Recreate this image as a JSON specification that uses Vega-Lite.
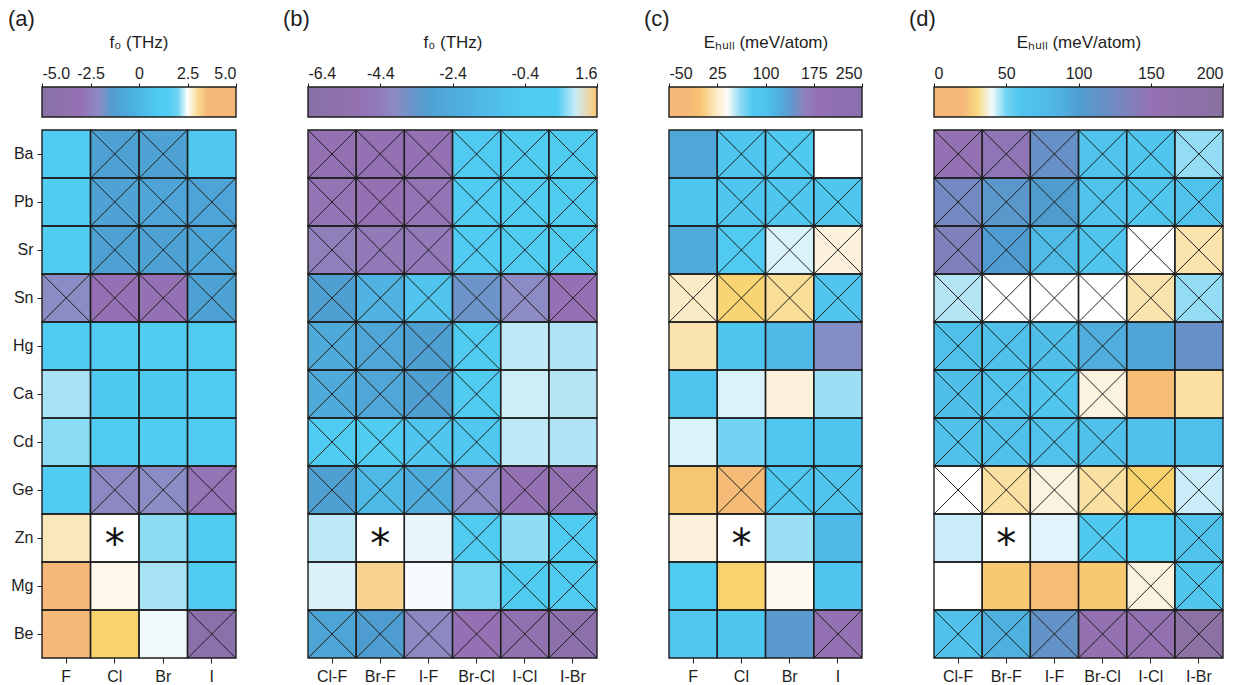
{
  "$schema": "https://vega.github.io/schema/vega-lite/v6.json",
  "background": "white",
  "padding": {"left": 8, "top": 8, "right": 10, "bottom": 5},
  "config": {
    "font": "Liberation Sans",
    "view": {"stroke": null},
    "axis": {"title": null, "domain": false, "grid": false, "labelFontSize": 16, "labelColor": "#1e1e1e", "tickColor": "#1e1e1e", "tickSize": 5, "tickWidth": 1, "labelPadding": 4},
    "axisX": {"labelAngle": 0, "labelPadding": 5},
    "legend": {
      "orient": "none", "legendX": 0, "legendY": -95, "direction": "horizontal",
      "gradientThickness": 30, "gradientStrokeColor": "#1e1e1e", "gradientStrokeWidth": 1.4,
      "labelOpacity": 0, "labelOverlap": false, "labelFontSize": 10,
      "titleFontSize": 17, "titleFontWeight": "normal", "titleColor": "#1e1e1e", "titleAnchor": "middle",
      "titlePadding": 35, "padding": 0, "titleLimit": 400
    },
    "title": {"fontSize": 22, "fontWeight": "normal", "anchor": "start", "frame": "group", "color": "#1e1e1e"}
  },
  "datasets": {
    "cells": [
      {"p":"a","r":"Ba","c":"F","v":1.2,"x":0},{"p":"a","r":"Ba","c":"Cl","v":-1.2,"x":1},{"p":"a","r":"Ba","c":"Br","v":-1.1,"x":1},{"p":"a","r":"Ba","c":"I","v":0.8,"x":0},
      {"p":"a","r":"Pb","c":"F","v":1.3,"x":0},{"p":"a","r":"Pb","c":"Cl","v":-1.1,"x":1},{"p":"a","r":"Pb","c":"Br","v":-1.0,"x":1},{"p":"a","r":"Pb","c":"I","v":-1.0,"x":1},
      {"p":"a","r":"Sr","c":"F","v":1.3,"x":0},{"p":"a","r":"Sr","c":"Cl","v":-1.2,"x":1},{"p":"a","r":"Sr","c":"Br","v":-1.1,"x":1},{"p":"a","r":"Sr","c":"I","v":-0.9,"x":1},
      {"p":"a","r":"Sn","c":"F","v":-2.0,"x":1},{"p":"a","r":"Sn","c":"Cl","v":-3.0,"x":1},{"p":"a","r":"Sn","c":"Br","v":-3.2,"x":1},{"p":"a","r":"Sn","c":"I","v":-1.2,"x":1},
      {"p":"a","r":"Hg","c":"F","v":1.2,"x":0},{"p":"a","r":"Hg","c":"Cl","v":1.2,"x":0},{"p":"a","r":"Hg","c":"Br","v":1.3,"x":0},{"p":"a","r":"Hg","c":"I","v":1.3,"x":0},
      {"p":"a","r":"Ca","c":"F","v":2.2,"x":0},{"p":"a","r":"Ca","c":"Cl","v":0.9,"x":0},{"p":"a","r":"Ca","c":"Br","v":0.9,"x":0},{"p":"a","r":"Ca","c":"I","v":1.0,"x":0},
      {"p":"a","r":"Cd","c":"F","v":2.1,"x":0},{"p":"a","r":"Cd","c":"Cl","v":1.2,"x":0},{"p":"a","r":"Cd","c":"Br","v":1.2,"x":0},{"p":"a","r":"Cd","c":"I","v":1.2,"x":0},
      {"p":"a","r":"Ge","c":"F","v":1.2,"x":0},{"p":"a","r":"Ge","c":"Cl","v":-2.1,"x":1},{"p":"a","r":"Ge","c":"Br","v":-2.0,"x":1},{"p":"a","r":"Ge","c":"I","v":-2.9,"x":1},
      {"p":"a","r":"Zn","c":"F","v":2.85,"x":0},{"p":"a","r":"Zn","c":"Cl","v":null,"x":0},{"p":"a","r":"Zn","c":"Br","v":2.1,"x":0},{"p":"a","r":"Zn","c":"I","v":1.3,"x":0},
      {"p":"a","r":"Mg","c":"F","v":4.2,"x":0},{"p":"a","r":"Mg","c":"Cl","v":2.62,"x":0},{"p":"a","r":"Mg","c":"Br","v":2.2,"x":0},{"p":"a","r":"Mg","c":"I","v":1.3,"x":0},
      {"p":"a","r":"Be","c":"F","v":3.6,"x":0},{"p":"a","r":"Be","c":"Cl","v":3.15,"x":0},{"p":"a","r":"Be","c":"Br","v":2.45,"x":0},{"p":"a","r":"Be","c":"I","v":-4.6,"x":1},

      {"p":"b","r":"Ba","c":"Cl-F","v":-4.9,"x":1},{"p":"b","r":"Ba","c":"Br-F","v":-4.9,"x":1},{"p":"b","r":"Ba","c":"I-F","v":-4.9,"x":1},{"p":"b","r":"Ba","c":"Br-Cl","v":-0.5,"x":1},{"p":"b","r":"Ba","c":"I-Cl","v":0.0,"x":1},{"p":"b","r":"Ba","c":"I-Br","v":0.0,"x":1},
      {"p":"b","r":"Pb","c":"Cl-F","v":-4.7,"x":1},{"p":"b","r":"Pb","c":"Br-F","v":-4.8,"x":1},{"p":"b","r":"Pb","c":"I-F","v":-4.7,"x":1},{"p":"b","r":"Pb","c":"Br-Cl","v":-0.3,"x":1},{"p":"b","r":"Pb","c":"I-Cl","v":0.0,"x":1},{"p":"b","r":"Pb","c":"I-Br","v":0.0,"x":1},
      {"p":"b","r":"Sr","c":"Cl-F","v":-4.3,"x":1},{"p":"b","r":"Sr","c":"Br-F","v":-4.5,"x":1},{"p":"b","r":"Sr","c":"I-F","v":-4.5,"x":1},{"p":"b","r":"Sr","c":"Br-Cl","v":-0.4,"x":1},{"p":"b","r":"Sr","c":"I-Cl","v":0.0,"x":1},{"p":"b","r":"Sr","c":"I-Br","v":0.0,"x":1},
      {"p":"b","r":"Sn","c":"Cl-F","v":-3.1,"x":1},{"p":"b","r":"Sn","c":"Br-F","v":-2.0,"x":1},{"p":"b","r":"Sn","c":"I-F","v":-0.9,"x":1},{"p":"b","r":"Sn","c":"Br-Cl","v":-3.55,"x":1},{"p":"b","r":"Sn","c":"I-Cl","v":-3.95,"x":1},{"p":"b","r":"Sn","c":"I-Br","v":-4.8,"x":1},
      {"p":"b","r":"Hg","c":"Cl-F","v":-2.5,"x":1},{"p":"b","r":"Hg","c":"Br-F","v":-2.7,"x":1},{"p":"b","r":"Hg","c":"I-F","v":-3.1,"x":1},{"p":"b","r":"Hg","c":"Br-Cl","v":0.0,"x":1},{"p":"b","r":"Hg","c":"I-Cl","v":0.95,"x":0},{"p":"b","r":"Hg","c":"I-Br","v":0.88,"x":0},
      {"p":"b","r":"Ca","c":"Cl-F","v":-2.5,"x":1},{"p":"b","r":"Ca","c":"Br-F","v":-2.7,"x":1},{"p":"b","r":"Ca","c":"I-F","v":-3.1,"x":1},{"p":"b","r":"Ca","c":"Br-Cl","v":0.0,"x":1},{"p":"b","r":"Ca","c":"I-Cl","v":1.02,"x":0},{"p":"b","r":"Ca","c":"I-Br","v":0.9,"x":0},
      {"p":"b","r":"Cd","c":"Cl-F","v":-0.3,"x":1},{"p":"b","r":"Cd","c":"Br-F","v":0.0,"x":1},{"p":"b","r":"Cd","c":"I-F","v":-0.8,"x":1},{"p":"b","r":"Cd","c":"Br-Cl","v":-0.7,"x":1},{"p":"b","r":"Cd","c":"I-Cl","v":0.95,"x":0},{"p":"b","r":"Cd","c":"I-Br","v":0.88,"x":0},
      {"p":"b","r":"Ge","c":"Cl-F","v":-3.1,"x":1},{"p":"b","r":"Ge","c":"Br-F","v":-1.6,"x":1},{"p":"b","r":"Ge","c":"I-F","v":-2.3,"x":1},{"p":"b","r":"Ge","c":"Br-Cl","v":-4.0,"x":1},{"p":"b","r":"Ge","c":"I-Cl","v":-4.9,"x":1},{"p":"b","r":"Ge","c":"I-Br","v":-5.0,"x":1},
      {"p":"b","r":"Zn","c":"Cl-F","v":0.95,"x":0},{"p":"b","r":"Zn","c":"Br-F","v":null,"x":0},{"p":"b","r":"Zn","c":"I-F","v":1.15,"x":0},{"p":"b","r":"Zn","c":"Br-Cl","v":0.0,"x":1},{"p":"b","r":"Zn","c":"I-Cl","v":0.75,"x":0},{"p":"b","r":"Zn","c":"I-Br","v":0.1,"x":1},
      {"p":"b","r":"Mg","c":"Cl-F","v":1.08,"x":0},{"p":"b","r":"Mg","c":"Br-F","v":1.45,"x":0},{"p":"b","r":"Mg","c":"I-F","v":1.25,"x":0},{"p":"b","r":"Mg","c":"Br-Cl","v":0.65,"x":0},{"p":"b","r":"Mg","c":"I-Cl","v":0.0,"x":1},{"p":"b","r":"Mg","c":"I-Br","v":0.1,"x":1},
      {"p":"b","r":"Be","c":"Cl-F","v":-2.8,"x":1},{"p":"b","r":"Be","c":"Br-F","v":-3.2,"x":1},{"p":"b","r":"Be","c":"I-F","v":-4.0,"x":1},{"p":"b","r":"Be","c":"Br-Cl","v":-4.8,"x":1},{"p":"b","r":"Be","c":"I-Cl","v":-5.3,"x":1},{"p":"b","r":"Be","c":"I-Br","v":-5.9,"x":1},

      {"p":"c","r":"Ba","c":"F","v":127,"x":0},{"p":"c","r":"Ba","c":"Cl","v":90,"x":1},{"p":"c","r":"Ba","c":"Br","v":75,"x":1},{"p":"c","r":"Ba","c":"I","v":42,"x":0},
      {"p":"c","r":"Pb","c":"F","v":90,"x":0},{"p":"c","r":"Pb","c":"Cl","v":90,"x":1},{"p":"c","r":"Pb","c":"Br","v":92,"x":1},{"p":"c","r":"Pb","c":"I","v":92,"x":1},
      {"p":"c","r":"Sr","c":"F","v":124,"x":0},{"p":"c","r":"Sr","c":"Cl","v":72,"x":1},{"p":"c","r":"Sr","c":"Br","v":49,"x":1},{"p":"c","r":"Sr","c":"I","v":27,"x":1},
      {"p":"c","r":"Sn","c":"F","v":22,"x":1},{"p":"c","r":"Sn","c":"Cl","v":9,"x":1},{"p":"c","r":"Sn","c":"Br","v":15,"x":1},{"p":"c","r":"Sn","c":"I","v":95,"x":1},
      {"p":"c","r":"Hg","c":"F","v":18,"x":0},{"p":"c","r":"Hg","c":"Cl","v":90,"x":0},{"p":"c","r":"Hg","c":"Br","v":112,"x":0},{"p":"c","r":"Hg","c":"I","v":150,"x":0},
      {"p":"c","r":"Ca","c":"F","v":100,"x":0},{"p":"c","r":"Ca","c":"Cl","v":49,"x":0},{"p":"c","r":"Ca","c":"Br","v":27,"x":0},{"p":"c","r":"Ca","c":"I","v":59,"x":0},
      {"p":"c","r":"Cd","c":"F","v":49,"x":0},{"p":"c","r":"Cd","c":"Cl","v":64,"x":0},{"p":"c","r":"Cd","c":"Br","v":88,"x":0},{"p":"c","r":"Cd","c":"I","v":100,"x":0},
      {"p":"c","r":"Ge","c":"F","v":0,"x":0},{"p":"c","r":"Ge","c":"Cl","v":-8,"x":1},{"p":"c","r":"Ge","c":"Br","v":85,"x":1},{"p":"c","r":"Ge","c":"I","v":102,"x":1},
      {"p":"c","r":"Zn","c":"F","v":27,"x":0},{"p":"c","r":"Zn","c":"Cl","v":null,"x":0},{"p":"c","r":"Zn","c":"Br","v":59,"x":0},{"p":"c","r":"Zn","c":"I","v":112,"x":0},
      {"p":"c","r":"Mg","c":"F","v":72,"x":0},{"p":"c","r":"Mg","c":"Cl","v":8,"x":0},{"p":"c","r":"Mg","c":"Br","v":36,"x":0},{"p":"c","r":"Mg","c":"I","v":98,"x":0},
      {"p":"c","r":"Be","c":"F","v":88,"x":0},{"p":"c","r":"Be","c":"Cl","v":90,"x":0},{"p":"c","r":"Be","c":"Br","v":138,"x":0},{"p":"c","r":"Be","c":"I","v":185,"x":1},

      {"p":"d","r":"Ba","c":"Cl-F","v":152,"x":1},{"p":"d","r":"Ba","c":"Br-F","v":145,"x":1},{"p":"d","r":"Ba","c":"I-F","v":118,"x":1},{"p":"d","r":"Ba","c":"Br-Cl","v":65,"x":1},{"p":"d","r":"Ba","c":"I-Cl","v":60,"x":1},{"p":"d","r":"Ba","c":"I-Br","v":48,"x":1},
      {"p":"d","r":"Pb","c":"Cl-F","v":127,"x":1},{"p":"d","r":"Pb","c":"Br-F","v":108,"x":1},{"p":"d","r":"Pb","c":"I-F","v":101,"x":1},{"p":"d","r":"Pb","c":"Br-Cl","v":65,"x":1},{"p":"d","r":"Pb","c":"I-Cl","v":62,"x":1},{"p":"d","r":"Pb","c":"I-Br","v":65,"x":1},
      {"p":"d","r":"Sr","c":"Cl-F","v":135,"x":1},{"p":"d","r":"Sr","c":"Br-F","v":100,"x":1},{"p":"d","r":"Sr","c":"I-F","v":75,"x":1},{"p":"d","r":"Sr","c":"Br-Cl","v":62,"x":1},{"p":"d","r":"Sr","c":"I-Cl","v":39,"x":1},{"p":"d","r":"Sr","c":"I-Br","v":32,"x":1},
      {"p":"d","r":"Sn","c":"Cl-F","v":46,"x":1},{"p":"d","r":"Sn","c":"Br-F","v":39,"x":1},{"p":"d","r":"Sn","c":"I-F","v":39,"x":1},{"p":"d","r":"Sn","c":"Br-Cl","v":39,"x":1},{"p":"d","r":"Sn","c":"I-Cl","v":32,"x":1},{"p":"d","r":"Sn","c":"I-Br","v":48,"x":1},
      {"p":"d","r":"Hg","c":"Cl-F","v":70,"x":1},{"p":"d","r":"Hg","c":"Br-F","v":68,"x":1},{"p":"d","r":"Hg","c":"I-F","v":72,"x":1},{"p":"d","r":"Hg","c":"Br-Cl","v":90,"x":1},{"p":"d","r":"Hg","c":"I-Cl","v":95,"x":0},{"p":"d","r":"Hg","c":"I-Br","v":118,"x":0},
      {"p":"d","r":"Ca","c":"Cl-F","v":72,"x":1},{"p":"d","r":"Ca","c":"Br-F","v":65,"x":1},{"p":"d","r":"Ca","c":"I-F","v":62,"x":1},{"p":"d","r":"Ca","c":"Br-Cl","v":35,"x":1},{"p":"d","r":"Ca","c":"I-Cl","v":22,"x":0},{"p":"d","r":"Ca","c":"I-Br","v":31.5,"x":0},
      {"p":"d","r":"Cd","c":"Cl-F","v":68,"x":1},{"p":"d","r":"Cd","c":"Br-F","v":68,"x":1},{"p":"d","r":"Cd","c":"I-F","v":66,"x":1},{"p":"d","r":"Cd","c":"Br-Cl","v":68,"x":1},{"p":"d","r":"Cd","c":"I-Cl","v":68,"x":0},{"p":"d","r":"Cd","c":"I-Br","v":70,"x":0},
      {"p":"d","r":"Ge","c":"Cl-F","v":39,"x":1},{"p":"d","r":"Ge","c":"Br-F","v":31.5,"x":1},{"p":"d","r":"Ge","c":"I-F","v":35,"x":1},{"p":"d","r":"Ge","c":"Br-Cl","v":31.5,"x":1},{"p":"d","r":"Ge","c":"I-Cl","v":29,"x":1},{"p":"d","r":"Ge","c":"I-Br","v":44,"x":1},
      {"p":"d","r":"Zn","c":"Cl-F","v":44,"x":0},{"p":"d","r":"Zn","c":"Br-F","v":null,"x":0},{"p":"d","r":"Zn","c":"I-F","v":42,"x":0},{"p":"d","r":"Zn","c":"Br-Cl","v":55,"x":1},{"p":"d","r":"Zn","c":"I-Cl","v":54,"x":0},{"p":"d","r":"Zn","c":"I-Br","v":65,"x":1},
      {"p":"d","r":"Mg","c":"Cl-F","v":39,"x":0},{"p":"d","r":"Mg","c":"Br-F","v":26,"x":0},{"p":"d","r":"Mg","c":"I-F","v":22,"x":0},{"p":"d","r":"Mg","c":"Br-Cl","v":26,"x":0},{"p":"d","r":"Mg","c":"I-Cl","v":35,"x":1},{"p":"d","r":"Mg","c":"I-Br","v":62,"x":1},
      {"p":"d","r":"Be","c":"Cl-F","v":68,"x":1},{"p":"d","r":"Be","c":"Br-F","v":88,"x":1},{"p":"d","r":"Be","c":"I-F","v":115,"x":1},{"p":"d","r":"Be","c":"Br-Cl","v":155,"x":1},{"p":"d","r":"Be","c":"I-Cl","v":158,"x":1},{"p":"d","r":"Be","c":"I-Br","v":190,"x":1}
    ]
  },
  "data": {"name": "cells"},
  "spacing": 72,
  "bounds": "flush",
  "resolve": {"scale": {"color": "independent", "x": "independent", "y": "independent"}, "legend": {"color": "independent"}},
  "hconcat": [
    {
      "title": {"text": "(a)", "dx": -34},
      "width": 194, "height": 528,
      "transform": [{"filter": "datum.p == 'a'"}],
      "encoding": {
        "y": {"field": "r", "type": "nominal", "sort": ["Ba", "Pb", "Sr", "Sn", "Hg", "Ca", "Cd", "Ge", "Zn", "Mg", "Be"], "scale": {"paddingInner": 0, "paddingOuter": 0}}
      },
      "layer": [
        {
          "layer": [
            {
              "transform": [{"filter": "datum.v != null"}],
              "mark": {"type": "rect"},
              "encoding": {
                "color": {
                  "field": "v", "type": "quantitative",
                  "scale": {
                    "type": "linear", "interpolate": "rgb", "clamp": true, "zero": false, "nice": false,
                    "domain": [-5, -3.0, -2.0, -1.4, 0, 1.0, 1.9, 2.25, 2.5, 2.75, 3.15, 3.45, 5],
                    "range": ["#8871a6", "#9571b3", "#8b8cc4", "#4f9dd0", "#4ab6e4", "#50cbf1", "#50cdf2", "#b5e5f5", "#ffffff", "#fbefd8", "#f8d26c", "#f5b878", "#f5b878"]
                  },
                  "legend": {"title": "f₀ (THz)", "gradientLength": 194}
                }
              }
            },
            {"transform": [{"filter": "datum.x == 1"}], "mark": {"type": "point", "shape": "M-1,-1L1,1M-1,1L1,-1", "filled": false, "color": "#1e1e1e", "strokeWidth": 1, "size": 2304, "opacity": 1}},
            {"mark": {"type": "rect", "fillOpacity": 0, "stroke": "#1e1e1e", "strokeWidth": 1.4}},
            {"transform": [{"filter": "datum.v == null"}], "mark": {"type": "text", "text": "*", "font": "DejaVu Sans", "fontSize": 40, "baseline": "middle", "dy": 8, "color": "#111111"}}
          ],
          "encoding": {
            "x": {"field": "c", "type": "nominal", "sort": ["F", "Cl", "Br", "I"], "scale": {"paddingInner": 0, "paddingOuter": 0}}
          }
        },
        {
          "transform": [{"filter": "datum.v != null"}],
          "mark": {"type": "point", "opacity": 0},
          "encoding": {
            "x": {"field": "v", "type": "quantitative", "scale": {"domain": [-5, 5], "nice": false, "zero": false},
                  "axis": {"orient": "top", "offset": 43, "values": [-5, -2.5, 0, 2.5, 5], "tickSize": 4, "labelPadding": 2,
                           "labelExpr": "datum.value == 0 ? '0' : (datum.value < 0 ? '-' : '') + format(abs(datum.value), '.1f')"}}
          }
        }
      ],
      "resolve": {"scale": {"x": "independent"}, "axis": {"x": "independent"}}
    },
    {
      "title": {"text": "(b)", "dx": -25},
      "width": 289, "height": 528,
      "transform": [{"filter": "datum.p == 'b'"}],
      "encoding": {
        "y": {"field": "r", "type": "nominal", "sort": ["Ba", "Pb", "Sr", "Sn", "Hg", "Ca", "Cd", "Ge", "Zn", "Mg", "Be"], "scale": {"paddingInner": 0, "paddingOuter": 0}, "axis": null}
      },
      "layer": [
        {
          "layer": [
            {
              "transform": [{"filter": "datum.v != null"}],
              "mark": {"type": "rect"},
              "encoding": {
                "color": {
                  "field": "v", "type": "quantitative",
                  "scale": {
                    "type": "linear", "interpolate": "rgb", "clamp": true, "zero": false, "nice": false,
                    "domain": [-6.4, -4.8, -3.9, -3.2, -1.8, -0.4, 0.5, 0.9, 1.15, 1.35, 1.45, 1.6],
                    "range": ["#8871a6", "#9571b3", "#8b8cc4", "#4f9dd0", "#4fb6e4", "#50cbf1", "#50cdf2", "#b5e5f5", "#e8f5fa", "#ffffff", "#f8d390", "#f5c27a"]
                  },
                  "legend": {"title": "f₀ (THz)", "gradientLength": 289}
                }
              }
            },
            {"transform": [{"filter": "datum.x == 1"}], "mark": {"type": "point", "shape": "M-1,-1L1,1M-1,1L1,-1", "filled": false, "color": "#1e1e1e", "strokeWidth": 1, "size": 2304, "opacity": 1}},
            {"mark": {"type": "rect", "fillOpacity": 0, "stroke": "#1e1e1e", "strokeWidth": 1.4}},
            {"transform": [{"filter": "datum.v == null"}], "mark": {"type": "text", "text": "*", "font": "DejaVu Sans", "fontSize": 40, "baseline": "middle", "dy": 8, "color": "#111111"}}
          ],
          "encoding": {
            "x": {"field": "c", "type": "nominal", "sort": ["Cl-F", "Br-F", "I-F", "Br-Cl", "I-Cl", "I-Br"], "scale": {"paddingInner": 0, "paddingOuter": 0}}
          }
        },
        {
          "transform": [{"filter": "datum.v != null"}],
          "mark": {"type": "point", "opacity": 0},
          "encoding": {
            "x": {"field": "v", "type": "quantitative", "scale": {"domain": [-6.4, 1.6], "nice": false, "zero": false},
                  "axis": {"orient": "top", "offset": 43, "values": [-6.4, -4.4, -2.4, -0.4, 1.6], "tickSize": 4, "labelPadding": 2,
                           "labelExpr": "(datum.value < 0 ? '-' : '') + format(abs(datum.value), '.1f')"}}
          }
        }
      ],
      "resolve": {"scale": {"x": "independent"}, "axis": {"x": "independent"}}
    },
    {
      "title": {"text": "(c)", "dx": -25},
      "width": 193, "height": 528,
      "transform": [{"filter": "datum.p == 'c'"}],
      "encoding": {
        "y": {"field": "r", "type": "nominal", "sort": ["Ba", "Pb", "Sr", "Sn", "Hg", "Ca", "Cd", "Ge", "Zn", "Mg", "Be"], "scale": {"paddingInner": 0, "paddingOuter": 0}, "axis": null}
      },
      "layer": [
        {
          "layer": [
            {
              "transform": [{"filter": "datum.v != null"}],
              "mark": {"type": "rect"},
              "encoding": {
                "color": {
                  "field": "v", "type": "quantitative",
                  "scale": {
                    "type": "linear", "interpolate": "rgb", "clamp": true, "zero": false, "nice": false,
                    "domain": [-50, -10, 8, 25, 42, 56, 68, 105, 135, 152, 170, 250],
                    "range": ["#f5b878", "#f5b878", "#f8d26c", "#fbefd8", "#ffffff", "#b5e5f5", "#50cbf1", "#4fc3ee", "#4f9dd0", "#8b8cc4", "#9571b3", "#8a6fae"]
                  },
                  "legend": {"title": "Eₕᵤₗₗ (meV/atom)", "gradientLength": 193}
                }
              }
            },
            {"transform": [{"filter": "datum.x == 1"}], "mark": {"type": "point", "shape": "M-1,-1L1,1M-1,1L1,-1", "filled": false, "color": "#1e1e1e", "strokeWidth": 1, "size": 2304, "opacity": 1}},
            {"mark": {"type": "rect", "fillOpacity": 0, "stroke": "#1e1e1e", "strokeWidth": 1.4}},
            {"transform": [{"filter": "datum.v == null"}], "mark": {"type": "text", "text": "*", "font": "DejaVu Sans", "fontSize": 40, "baseline": "middle", "dy": 8, "color": "#111111"}}
          ],
          "encoding": {
            "x": {"field": "c", "type": "nominal", "sort": ["F", "Cl", "Br", "I"], "scale": {"paddingInner": 0, "paddingOuter": 0}}
          }
        },
        {
          "transform": [{"filter": "datum.v != null"}],
          "mark": {"type": "point", "opacity": 0},
          "encoding": {
            "x": {"field": "v", "type": "quantitative", "scale": {"domain": [-50, 250], "nice": false, "zero": false},
                  "axis": {"orient": "top", "offset": 43, "values": [-50, 25, 100, 175, 250], "tickSize": 4, "labelPadding": 2,
                           "labelExpr": "(datum.value < 0 ? '-' : '') + format(abs(datum.value), 'd')"}}
          }
        }
      ],
      "resolve": {"scale": {"x": "independent"}, "axis": {"x": "independent"}}
    },
    {
      "title": {"text": "(d)", "dx": -25},
      "width": 289, "height": 528,
      "transform": [{"filter": "datum.p == 'd'"}],
      "encoding": {
        "y": {"field": "r", "type": "nominal", "sort": ["Ba", "Pb", "Sr", "Sn", "Hg", "Ca", "Cd", "Ge", "Zn", "Mg", "Be"], "scale": {"paddingInner": 0, "paddingOuter": 0}, "axis": null}
      },
      "layer": [
        {
          "layer": [
            {
              "transform": [{"filter": "datum.v != null"}],
              "mark": {"type": "rect"},
              "encoding": {
                "color": {
                  "field": "v", "type": "quantitative",
                  "scale": {
                    "type": "linear", "interpolate": "rgb", "clamp": true, "zero": false, "nice": false,
                    "domain": [0, 20, 29, 34, 39, 46, 52, 85, 100, 128, 150, 200],
                    "range": ["#f5b878", "#f5b878", "#f8d26c", "#fbefd8", "#ffffff", "#b5e5f5", "#50cbf1", "#4fb6e4", "#4f9dd0", "#7588c0", "#9571b3", "#8871a0"]
                  },
                  "legend": {"title": "Eₕᵤₗₗ (meV/atom)", "gradientLength": 289}
                }
              }
            },
            {"transform": [{"filter": "datum.x == 1"}], "mark": {"type": "point", "shape": "M-1,-1L1,1M-1,1L1,-1", "filled": false, "color": "#1e1e1e", "strokeWidth": 1, "size": 2304, "opacity": 1}},
            {"mark": {"type": "rect", "fillOpacity": 0, "stroke": "#1e1e1e", "strokeWidth": 1.4}},
            {"transform": [{"filter": "datum.v == null"}], "mark": {"type": "text", "text": "*", "font": "DejaVu Sans", "fontSize": 40, "baseline": "middle", "dy": 8, "color": "#111111"}}
          ],
          "encoding": {
            "x": {"field": "c", "type": "nominal", "sort": ["Cl-F", "Br-F", "I-F", "Br-Cl", "I-Cl", "I-Br"], "scale": {"paddingInner": 0, "paddingOuter": 0}}
          }
        },
        {
          "transform": [{"filter": "datum.v != null"}],
          "mark": {"type": "point", "opacity": 0},
          "encoding": {
            "x": {"field": "v", "type": "quantitative", "scale": {"domain": [0, 200], "nice": false, "zero": false},
                  "axis": {"orient": "top", "offset": 43, "values": [0, 50, 100, 150, 200], "tickSize": 4, "labelPadding": 2, "format": "d"}}
          }
        }
      ],
      "resolve": {"scale": {"x": "independent"}, "axis": {"x": "independent"}}
    }
  ]
}
